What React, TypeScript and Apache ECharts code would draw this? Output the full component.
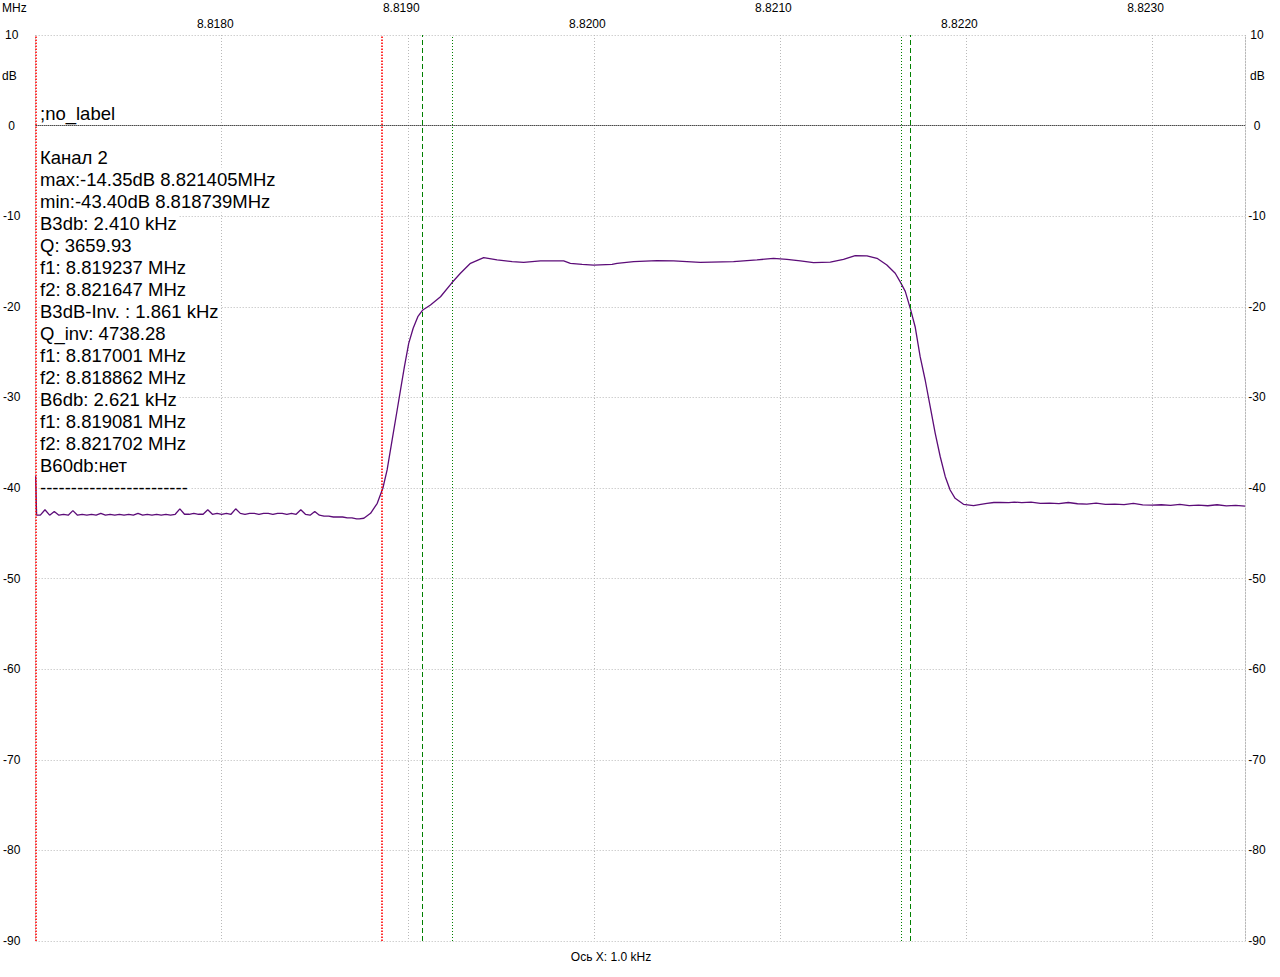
import React, { useEffect, useRef } from "react";
import * as echarts from "echarts";

// ---- measured trace (frequency in MHz, level in dB) ----
const noiseLowFreqMHz = [
  8.817000, 8.817005, 8.817025, 8.817050, 8.817075, 8.817100, 8.817125, 8.817150, 8.817175, 8.817200, 8.817225,
  8.817250, 8.817275, 8.817300, 8.817325, 8.817350, 8.817375, 8.817400, 8.817425, 8.817450, 8.817475,
  8.817500, 8.817525, 8.817550, 8.817575, 8.817600, 8.817625, 8.817650, 8.817675, 8.817700, 8.817725,
  8.817750, 8.817775, 8.817800, 8.817825, 8.817850, 8.817875, 8.817900, 8.817925, 8.817950, 8.817975,
  8.818000, 8.818025, 8.818050, 8.818075, 8.818100, 8.818125, 8.818150, 8.818175, 8.818200, 8.818225,
  8.818250, 8.818275, 8.818300, 8.818325, 8.818350, 8.818375, 8.818400, 8.818425, 8.818450, 8.818475,
  8.818500, 8.818525, 8.818550, 8.818575, 8.818600, 8.818625, 8.818650, 8.818675, 8.818700, 8.818725,
];
const noiseLowDb = [
  -38.7, -43.0, -43.0, -42.4, -43.0, -42.6, -43.0, -42.9, -43.0, -42.5, -43.0,
  -42.9, -43.0, -42.9, -43.0, -42.8, -43.0, -42.9, -43.0, -42.9, -43.0,
  -42.9, -43.0, -42.8, -43.0, -42.9, -43.0, -42.9, -43.0, -42.9, -43.0,
  -42.9, -42.3, -42.9, -42.9, -42.8, -42.9, -42.9, -42.4, -42.9, -42.8,
  -42.9, -42.8, -42.9, -42.3, -42.8, -42.9, -42.8, -42.8, -42.9, -42.8,
  -42.8, -42.9, -42.8, -42.8, -42.9, -42.8, -42.9, -42.4, -42.9, -43.0,
  -42.6, -43.0, -43.1, -43.1, -43.2, -43.2, -43.2, -43.3, -43.3, -43.4,
];
const passFreqMHz = [
  8.818739, 8.818764, 8.818800, 8.818836, 8.818866, 8.818889, 8.818916, 8.818943, 8.818961, 8.818982,
  8.819005, 8.819029, 8.819054, 8.819081, 8.819122, 8.819176, 8.819237, 8.819283, 8.819337, 8.819408,
  8.819480, 8.819561, 8.819623, 8.819713, 8.819838, 8.819874, 8.819937, 8.819999, 8.820098, 8.820125,
  8.820214, 8.820340, 8.820429, 8.820572, 8.820751, 8.820877, 8.820966, 8.821038, 8.821110, 8.821181,
  8.821271, 8.821342, 8.821405, 8.821468, 8.821522, 8.821575, 8.821620, 8.821647, 8.821674, 8.821702,
  8.821727, 8.821754, 8.821781, 8.821808, 8.821835, 8.821862, 8.821889, 8.821915, 8.821942, 8.821987,
  8.822041, 8.822080, 8.822113, 8.822150, 8.822184, 8.822230, 8.822260,
];
const passDb = [
  -43.40, -43.34, -42.79, -41.69, -40.03, -38.01, -34.70, -31.39, -29.18, -26.61,
  -24.03, -22.37, -21.09, -20.35, -19.80, -18.89, -17.35, -16.30, -15.20, -14.58,
  -14.83, -15.02, -15.09, -14.94, -14.94, -15.20, -15.31, -15.39, -15.31, -15.20,
  -15.02, -14.91, -14.94, -15.09, -15.02, -14.83, -14.65, -14.76, -14.94, -15.13,
  -15.06, -14.76, -14.35, -14.39, -14.65, -15.39, -16.30, -17.25, -18.30, -20.25,
  -22.20, -25.51, -28.08, -31.03, -33.96, -36.55, -38.75, -40.22, -41.14, -41.80,
  -41.95, -41.80, -41.69, -41.60, -41.58, -41.62, -41.55,
];
const noiseHighFreqMHz = [
  8.822300, 8.822350, 8.822400, 8.822450, 8.822500, 8.822550, 8.822600, 8.822650, 8.822700, 8.822750,
  8.822800, 8.822850, 8.822900, 8.822950, 8.823000, 8.823050, 8.823100, 8.823150, 8.823200, 8.823250,
  8.823300, 8.823350, 8.823400, 8.823450, 8.823500,
];
const noiseHighDb = [
  -41.62, -41.55, -41.69, -41.66, -41.72, -41.60, -41.74, -41.77, -41.68, -41.80,
  -41.78, -41.84, -41.70, -41.86, -41.90, -41.85, -41.92, -41.80, -41.95, -41.88,
  -41.96, -41.85, -41.97, -41.92, -41.99,
];

// ---- marker frequencies (MHz) ----
const redDottedMHz = [8.817001, 8.818862];
const greenDottedMHz = [8.819237, 8.821647];
const greenDashedMHz = [8.819081, 8.821702];
const zeroLevelDb = [0];

// ---- axis ranges (kHz / dB) ----
const xMinKHz = 8817;
const xMaxKHz = 8823.5;
const yMinDb = -90;
const yMaxDb = 10;

// ---- texts ----
const labelText = ";no_label";
const infoLines = [
  "Канал 2",
  "max:-14.35dB 8.821405MHz",
  "min:-43.40dB 8.818739MHz",
  "B3db: 2.410 kHz",
  "Q: 3659.93",
  "f1: 8.819237 MHz",
  "f2: 8.821647 MHz",
  "B3dB-Inv. : 1.861 kHz",
  "Q_inv: 4738.28",
  "f1: 8.817001 MHz",
  "f2: 8.818862 MHz",
  "B6db: 2.621 kHz",
  "f1: 8.819081 MHz",
  "f2: 8.821702 MHz",
  "B60db:нет",
  "------------------------",
];
const xUnit = "MHz";
const yUnit = "dB";
const xAxisTitle = "Ось X: 1.0 kHz";

const toKHz = (f: number) => Math.round(f * 1e6) / 1000;

export default function App() {
  const ref = useRef<HTMLDivElement>(null);

  useEffect(() => {
    document.body.style.margin = "0";
    const chart = echarts.init(ref.current!, null, { renderer: "svg" });
    const ff = '"Liberation Sans", Arial, sans-serif';
    const freq = [...noiseLowFreqMHz, ...passFreqMHz, ...noiseHighFreqMHz];
    const lvl = [...noiseLowDb, ...passDb, ...noiseHighDb];
    const data = freq.map((f, i) => [toKHz(f), lvl[i]]);

    const small = `12px ${ff}`;
    const big = `18.5px ${ff}`;

    const graphic: any[] = [
      { type: "text", x: 2, y: 8, z: 100, style: { text: xUnit, font: small, fill: "#000", verticalAlign: "middle" } },
      { type: "text", x: 2, y: 76, z: 100, style: { text: yUnit, font: small, fill: "#000", verticalAlign: "middle" } },
      { type: "text", x: 1250, y: 76, z: 100, style: { text: yUnit, font: small, fill: "#000", verticalAlign: "middle" } },
      { type: "text", x: 611, y: 957, z: 100, style: { text: xAxisTitle, font: small, fill: "#000", align: "center", verticalAlign: "middle" } },
      { type: "text", x: 40, y: 113, z: 100, style: { text: labelText, font: big, fill: "#000", verticalAlign: "middle" } },
    ];
    infoLines.forEach((t, i) => {
      graphic.push({
        type: "text",
        x: 40,
        y: 157 + 22 * i,
        z: 200 - i,
        style: {
          text: t,
          font: big,
          fill: "#000",
          verticalAlign: "middle",
          backgroundColor: "#ffffff",
          padding: [1, 2, 3, 0],
        },
      });
    });

    const markerSeries = (values: number[], isX: boolean, color: string, type: any, w: number) => ({
      type: "line",
      xAxisIndex: 0,
      yAxisIndex: 0,
      data: [],
      silent: true,
      z: 4,
      markLine: {
        silent: true,
        symbol: ["none", "none"],
        label: { show: false },
        emphasis: { disabled: true },
        lineStyle: { color, type, width: w, opacity: 1 },
        data: values.map((v) => (isX ? { xAxis: toKHz(v) } : { yAxis: v })),
      },
    });

    chart.setOption({
      animation: false,
      backgroundColor: "#ffffff",
      grid: { left: 35, right: 35, top: 35, bottom: 36, containLabel: false },
      xAxis: {
        type: "value",
        position: "top",
        min: xMinKHz,
        max: xMaxKHz,
        interval: 1,
        axisLine: { show: false },
        axisTick: { show: false },
        splitLine: { show: true, lineStyle: { color: "#b9b9b9", type: [1, 2], width: 1 } },
        axisLabel: {
          margin: 19,
          align: "center",
          verticalAlign: "middle",
          lineHeight: 15.5,
          padding: [0, 13, 0, 0],
          fontSize: 12,
          fontFamily: ff,
          color: "#000",
          hideOverlap: false,
          formatter: (v: number) => {
            const r = Math.round(v);
            if (Math.abs(v - r) > 1e-6 || r === xMinKHz) return "";
            const s = (r / 1000).toFixed(4);
            return r % 2 === 0 ? " \n" + s : s + "\n ";
          },
        },
      },
      yAxis: [
        {
          type: "value",
          position: "left",
          min: yMinDb,
          max: yMaxDb,
          interval: 10,
          axisLine: { show: false },
          axisTick: { show: false },
          splitLine: { show: true, lineStyle: { color: "#b9b9b9", type: [1, 2], width: 1 } },
          axisLabel: { margin: 24, align: "center", fontSize: 12, fontFamily: ff, color: "#000" },
        },
        {
          type: "value",
          position: "right",
          min: yMinDb,
          max: yMaxDb,
          interval: 10,
          axisLine: { show: true, lineStyle: { color: "#b9b9b9", type: [1, 2], width: 1 } },
          axisTick: { show: false },
          splitLine: { show: false },
          axisLabel: { margin: 12, align: "center", fontSize: 12, fontFamily: ff, color: "#000" },
        },
      ],
      series: [
        markerSeries(zeroLevelDb, false, "#000000", [1, 1], 1),
        markerSeries(redDottedMHz, true, "#ff0000", [1.5, 1.5], 1.6),
        markerSeries(greenDottedMHz, true, "#008000", [1, 2], 1),
        markerSeries(greenDashedMHz, true, "#008000", [5, 3], 1),
        {
          type: "line",
          xAxisIndex: 0,
          yAxisIndex: 0,
          data,
          showSymbol: false,
          symbol: "none",
          lineStyle: { color: "#5c0c78", width: 1.3 },
          z: 3,
        },
      ],
      graphic,
    });
    return () => chart.dispose();
  }, []);

  return <div ref={ref} style={{ width: 1280, height: 977 }} />;
}
